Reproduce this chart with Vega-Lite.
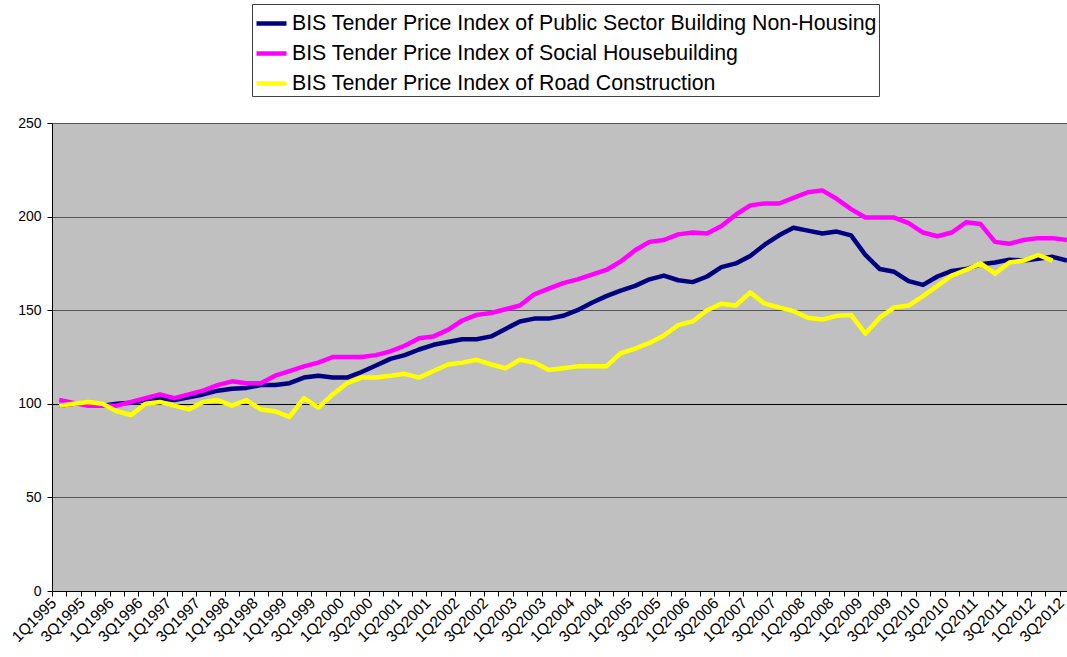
{
  "$schema": "https://vega.github.io/schema/vega-lite/v6.json",
  "width": 1015,
  "height": 468,
  "autosize": {"type": "none"},
  "padding": {"left": 52, "top": 123, "right": 0, "bottom": 66},
  "background": "white",
  "config": {
    "view": {"fill": "#C0C0C0", "stroke": "#9a9a9a", "strokeWidth": 1},
    "font": "Liberation Sans"
  },
  "data": {
    "values": [
      {"i":0,"q":"1Q1995","pub":99,"soc":102,"road":99},
      {"i":1,"q":"2Q1995","pub":100,"soc":100.5,"road":100},
      {"i":2,"q":"3Q1995","pub":100.5,"soc":99,"road":101},
      {"i":3,"q":"4Q1995","pub":99,"soc":99,"road":100},
      {"i":4,"q":"1Q1996","pub":100,"soc":99,"road":96},
      {"i":5,"q":"2Q1996","pub":100.5,"soc":101,"road":94},
      {"i":6,"q":"3Q1996","pub":102,"soc":103,"road":100},
      {"i":7,"q":"4Q1996","pub":103,"soc":105,"road":101},
      {"i":8,"q":"1Q1997","pub":102,"soc":103,"road":99},
      {"i":9,"q":"2Q1997","pub":103.5,"soc":105,"road":97},
      {"i":10,"q":"3Q1997","pub":105,"soc":107,"road":101},
      {"i":11,"q":"4Q1997","pub":107,"soc":110,"road":102},
      {"i":12,"q":"1Q1998","pub":108,"soc":112,"road":99},
      {"i":13,"q":"2Q1998","pub":108.5,"soc":111,"road":102},
      {"i":14,"q":"3Q1998","pub":110,"soc":111,"road":97},
      {"i":15,"q":"4Q1998","pub":110,"soc":115,"road":96},
      {"i":16,"q":"1Q1999","pub":111,"soc":117.5,"road":93},
      {"i":17,"q":"2Q1999","pub":114,"soc":120,"road":103},
      {"i":18,"q":"3Q1999","pub":115,"soc":122,"road":98},
      {"i":19,"q":"4Q1999","pub":114,"soc":125,"road":105},
      {"i":20,"q":"1Q2000","pub":114,"soc":125,"road":111},
      {"i":21,"q":"2Q2000","pub":117,"soc":125,"road":114},
      {"i":22,"q":"3Q2000","pub":120.5,"soc":126,"road":114},
      {"i":23,"q":"4Q2000","pub":124,"soc":128,"road":115},
      {"i":24,"q":"1Q2001","pub":126,"soc":131,"road":116},
      {"i":25,"q":"2Q2001","pub":129,"soc":135,"road":114},
      {"i":26,"q":"3Q2001","pub":131.5,"soc":136,"road":117.5},
      {"i":27,"q":"4Q2001","pub":133,"soc":139.5,"road":121},
      {"i":28,"q":"1Q2002","pub":134.5,"soc":144.5,"road":122},
      {"i":29,"q":"2Q2002","pub":134.5,"soc":147.5,"road":123.5},
      {"i":30,"q":"3Q2002","pub":136,"soc":148.5,"road":121},
      {"i":31,"q":"4Q2002","pub":140,"soc":150.5,"road":119},
      {"i":32,"q":"1Q2003","pub":144,"soc":152.5,"road":123.5},
      {"i":33,"q":"2Q2003","pub":145.5,"soc":158.5,"road":122},
      {"i":34,"q":"3Q2003","pub":145.5,"soc":161.5,"road":118},
      {"i":35,"q":"4Q2003","pub":147,"soc":164.5,"road":119},
      {"i":36,"q":"1Q2004","pub":150,"soc":166.5,"road":120},
      {"i":37,"q":"2Q2004","pub":154,"soc":169,"road":120},
      {"i":38,"q":"3Q2004","pub":157.5,"soc":171.5,"road":120},
      {"i":39,"q":"4Q2004","pub":160.5,"soc":176,"road":127},
      {"i":40,"q":"1Q2005","pub":163,"soc":182,"road":129.5},
      {"i":41,"q":"2Q2005","pub":166.5,"soc":186.5,"road":132.5},
      {"i":42,"q":"3Q2005","pub":168.5,"soc":187.5,"road":136.5},
      {"i":43,"q":"4Q2005","pub":166,"soc":190.5,"road":142},
      {"i":44,"q":"1Q2006","pub":165,"soc":191.5,"road":144},
      {"i":45,"q":"2Q2006","pub":168,"soc":191,"road":150},
      {"i":46,"q":"3Q2006","pub":173,"soc":195,"road":153.5},
      {"i":47,"q":"4Q2006","pub":175,"soc":201,"road":152.5},
      {"i":48,"q":"1Q2007","pub":179,"soc":206,"road":159.5},
      {"i":49,"q":"2Q2007","pub":185,"soc":207,"road":153.5},
      {"i":50,"q":"3Q2007","pub":190,"soc":207,"road":151.5},
      {"i":51,"q":"4Q2007","pub":194,"soc":210,"road":149.5},
      {"i":52,"q":"1Q2008","pub":192.5,"soc":213,"road":146},
      {"i":53,"q":"2Q2008","pub":191,"soc":214,"road":145},
      {"i":54,"q":"3Q2008","pub":192,"soc":209.5,"road":147},
      {"i":55,"q":"4Q2008","pub":190,"soc":204,"road":147.5},
      {"i":56,"q":"1Q2009","pub":179.5,"soc":199.5,"road":137.5},
      {"i":57,"q":"2Q2009","pub":172,"soc":199.5,"road":146},
      {"i":58,"q":"3Q2009","pub":170.5,"soc":199.5,"road":151.5},
      {"i":59,"q":"4Q2009","pub":165.5,"soc":196.5,"road":152.5},
      {"i":60,"q":"1Q2010","pub":163.5,"soc":191.5,"road":157.5},
      {"i":61,"q":"2Q2010","pub":168,"soc":189.5,"road":163},
      {"i":62,"q":"3Q2010","pub":171,"soc":191.5,"road":168.5},
      {"i":63,"q":"4Q2010","pub":172,"soc":197,"road":171.5},
      {"i":64,"q":"1Q2011","pub":174.5,"soc":196,"road":175},
      {"i":65,"q":"2Q2011","pub":175.5,"soc":186.5,"road":169.5},
      {"i":66,"q":"3Q2011","pub":177,"soc":185.5,"road":175.5},
      {"i":67,"q":"4Q2011","pub":176.5,"soc":187.5,"road":176.5},
      {"i":68,"q":"1Q2012","pub":177.5,"soc":188.5,"road":179.5},
      {"i":69,"q":"2Q2012","pub":178.5,"soc":188.5,"road":176.5},
      {"i":70,"q":"3Q2012","pub":176.5,"soc":187.5}
    ]
  },
  "transform": [
    {"fold": ["pub", "soc", "road"], "as": ["series", "value"]},
    {"filter": "isValid(datum.value)"}
  ],
  "mark": {"type": "line", "strokeWidth": 4.5, "clip": true, "strokeJoin": "round"},
  "encoding": {
    "x": {
      "field": "i",
      "type": "quantitative",
      "scale": {"domain": [-0.5, 70], "nice": false, "zero": false},
      "axis": {
        "title": null,
        "grid": false,
        "values": [-0.5,0,0.5,1,1.5,2,2.5,3,3.5,4,4.5,5,5.5,6,6.5,7,7.5,8,8.5,9,9.5,10,10.5,11,11.5,12,12.5,13,13.5,14,14.5,15,15.5,16,16.5,17,17.5,18,18.5,19,19.5,20,20.5,21,21.5,22,22.5,23,23.5,24,24.5,25,25.5,26,26.5,27,27.5,28,28.5,29,29.5,30,30.5,31,31.5,32,32.5,33,33.5,34,34.5,35,35.5,36,36.5,37,37.5,38,38.5,39,39.5,40,40.5,41,41.5,42,42.5,43,43.5,44,44.5,45,45.5,46,46.5,47,47.5,48,48.5,49,49.5,50,50.5,51,51.5,52,52.5,53,53.5,54,54.5,55,55.5,56,56.5,57,57.5,58,58.5,59,59.5,60,60.5,61,61.5,62,62.5,63,63.5,64,64.5,65,65.5,66,66.5,67,67.5,68,68.5,69,69.5,70],
        "labelExpr": "datum.value % 2 === 0 ? ((datum.value % 4) + 1) + 'Q' + (1995 + floor(datum.value / 4)) : ''",
        "labelAngle": -45,
        "labelAlign": "right",
        "labelBaseline": "middle",
        "labelPadding": 4,
        "labelOffset": -6,
        "labelOverlap": false,
        "labelFlush": false,
        "labelBound": false,
        "labelFont": "Liberation Sans",
        "labelFontSize": 15.5,
        "labelColor": "black",
        "tickSize": 5,
        "tickColor": "black",
        "tickOpacity": {"condition": {"test": "datum.value % 1 === 0", "value": 0}, "value": 1},
        "domainColor": "black",
        "domainWidth": 1
      }
    },
    "y": {
      "field": "value",
      "type": "quantitative",
      "scale": {"domain": [0, 250], "nice": false},
      "axis": {
        "title": null,
        "values": [0, 50, 100, 150, 200, 250],
        "grid": true,
        "gridColor": {"condition": {"test": "datum.value === 100", "value": "black"}, "value": "#555555"},
        "gridOpacity": 1,
        "labelFont": "Liberation Sans",
        "labelFontSize": 14,
        "labelColor": "black",
        "labelPadding": 6,
        "tickSize": 5,
        "tickColor": "black",
        "domainColor": "black"
      }
    },
    "color": {
      "field": "series",
      "type": "nominal",
      "scale": {"domain": ["pub", "soc", "road"], "range": ["#000080", "#FF00FF", "#FFFF00"]},
      "legend": {
        "title": null,
        "orient": "none",
        "legendX": 200,
        "legendY": -119,
        "labelExpr": "datum.label === 'pub' ? '\u00a0BIS Tender Price Index of Public Sector Building Non-Housing' : datum.label === 'soc' ? 'BIS Tender Price Index of Social Housebuilding' : 'BIS Tender Price Index of Road Construction'",
        "labelFont": "Liberation Sans",
        "labelFontSize": 21.3,
        "labelColor": "black",
        "labelLimit": 0,
        "labelOffset": 3,
        "symbolType": "stroke",
        "symbolSize": 900,
        "symbolStrokeWidth": 4.5,
        "strokeColor": "#404040",
        "fillColor": "white",
        "padding": 2,
        "rowPadding": 2
      }
    }
  }
}
